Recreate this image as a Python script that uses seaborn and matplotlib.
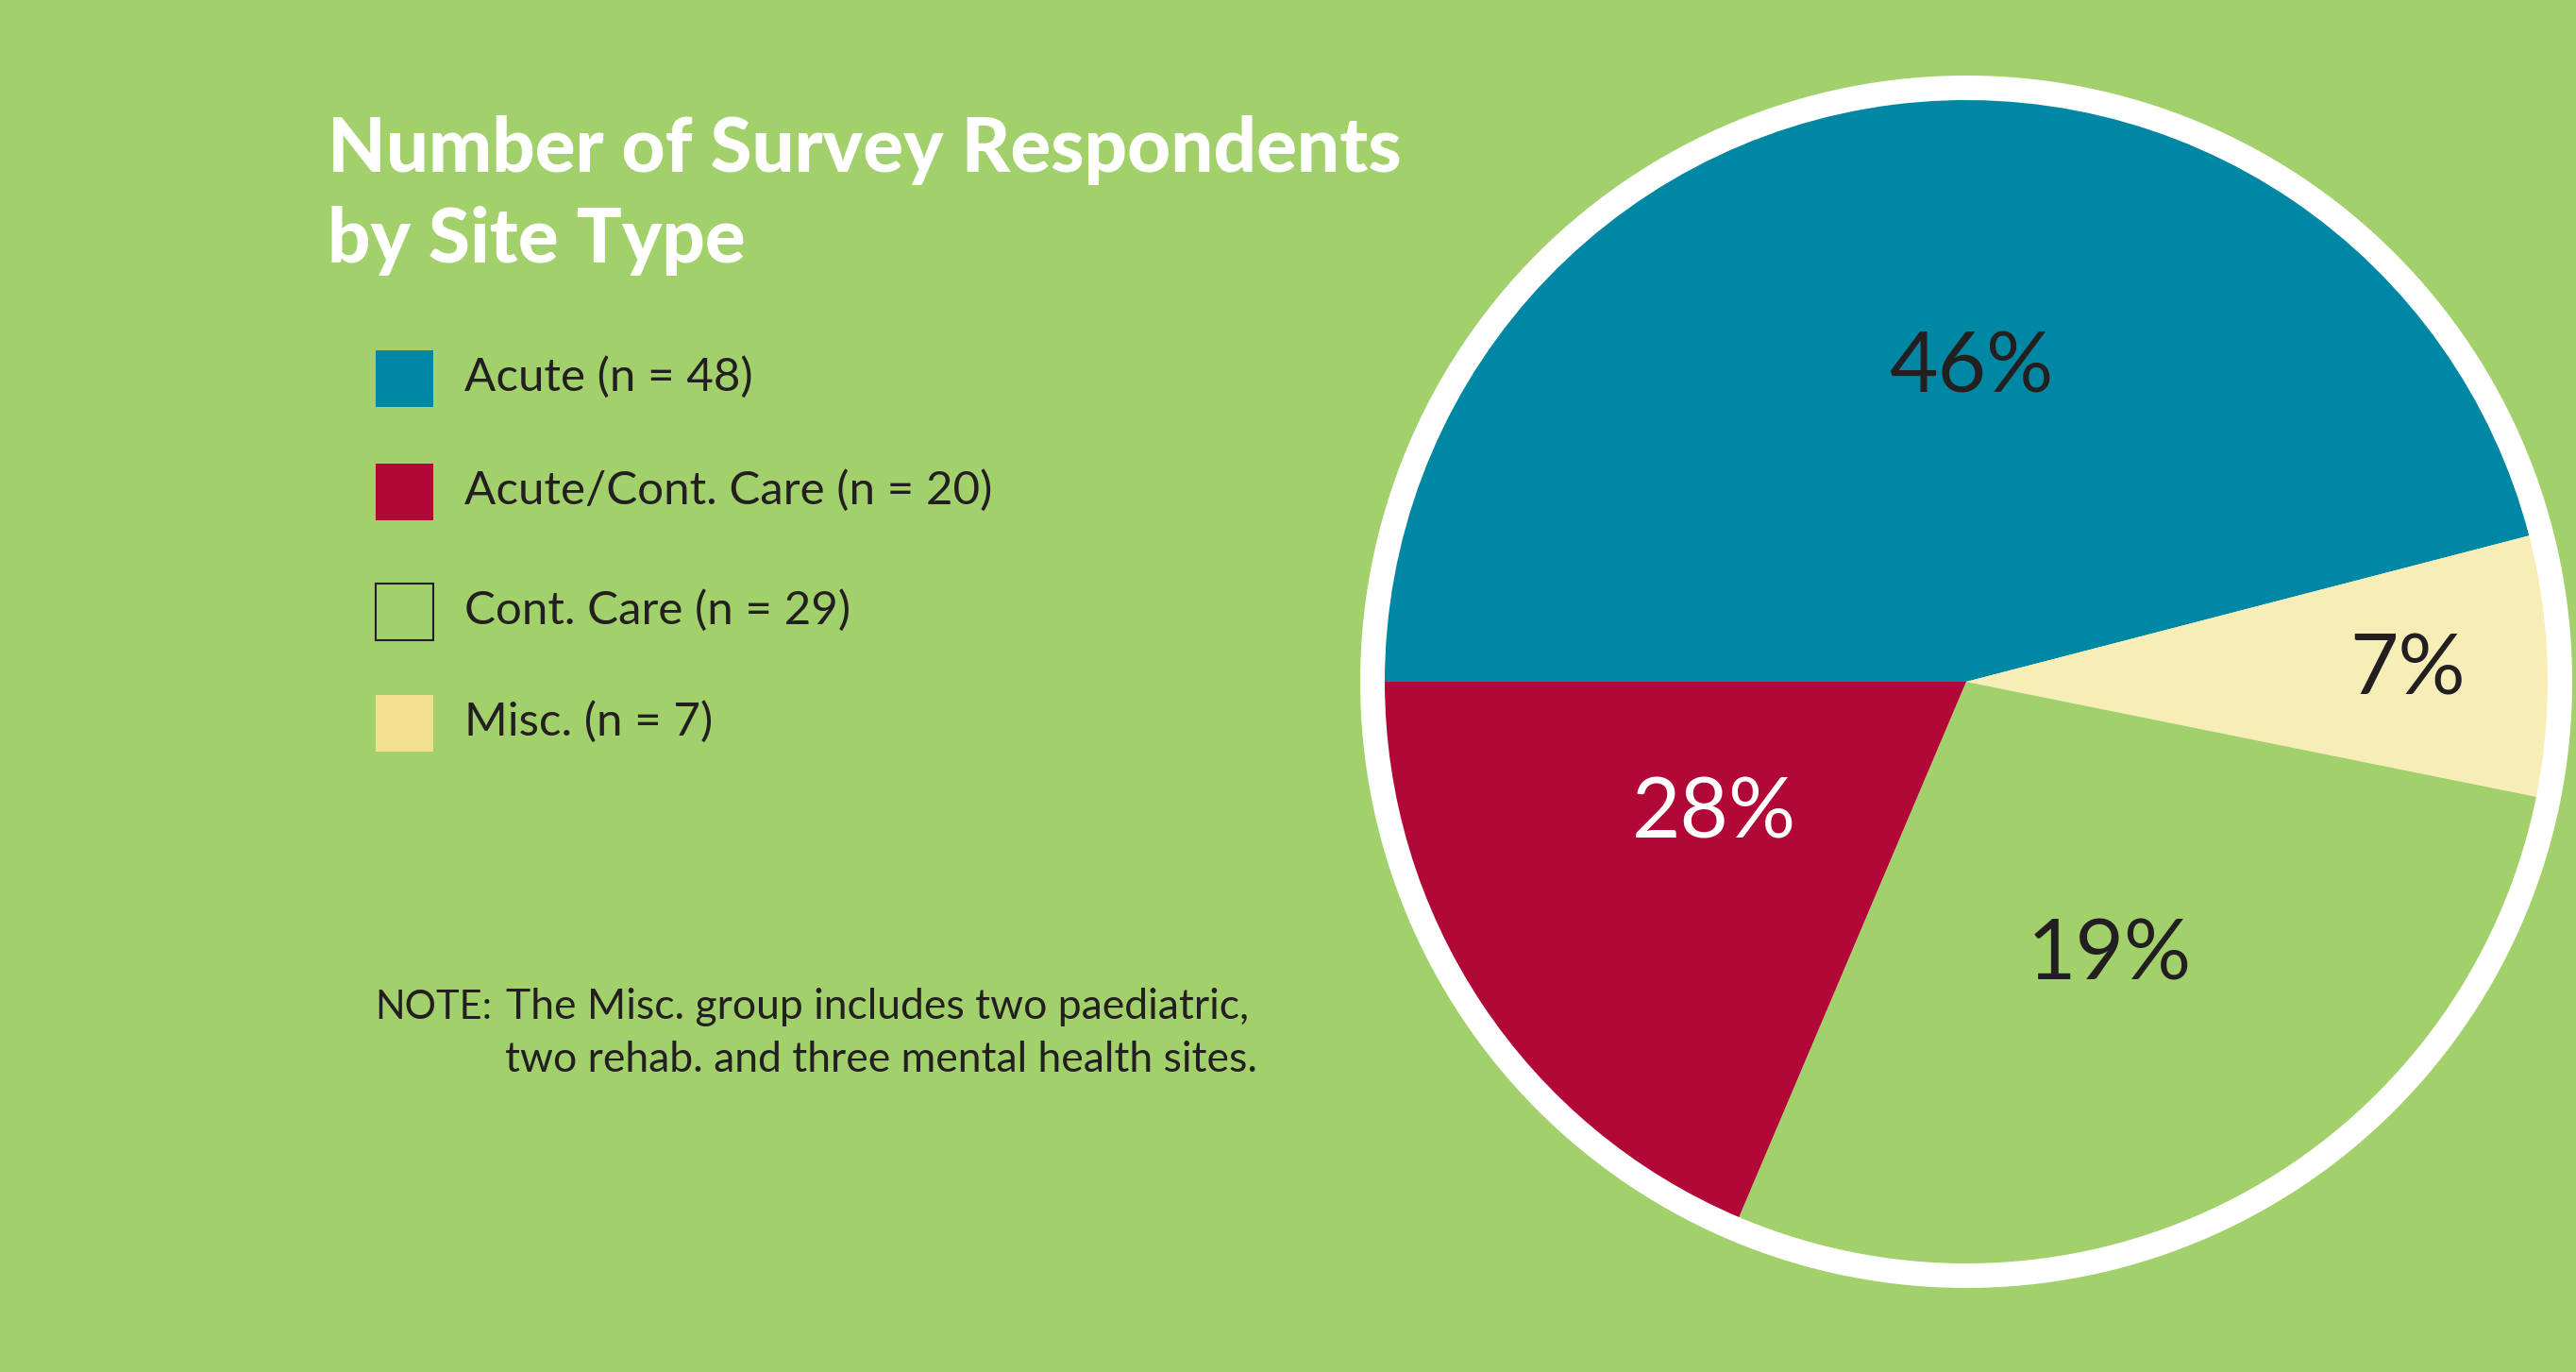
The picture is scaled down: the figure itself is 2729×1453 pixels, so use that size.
import matplotlib
matplotlib.use("Agg")
import matplotlib.pyplot as plt
import seaborn as sns
from matplotlib.patches import Rectangle, Circle

# ---- data ----
categories = ["Acute", "Misc.", "Cont. Care", "Acute/Cont. Care"]
shares = [45.96, 7.21, 28.22, 18.61]          # wedge sizes as drawn (%)
pct_labels = ["46%", "7%", "19%", "28%"]
legend_order = ["Acute", "Acute/Cont. Care", "Cont. Care", "Misc."]
legend_n = [48, 20, 29, 7]
title_lines = ["Number of Survey Respondents", "by Site Type"]
note_lines = ["NOTE:", "The Misc. group includes two paediatric,",
              "two rehab. and three mental health sites."]

# ---- styles ----
BG = "#A2D06B"
wedge_colors = {"Acute": "#0087A4", "Misc.": "#F7EDB7",
                "Cont. Care": BG, "Acute/Cont. Care": "#B20838"}
legend_colors = {"Acute": "#0087A4", "Acute/Cont. Care": "#B20838",
                 "Cont. Care": BG, "Misc.": "#F2E08E"}
DARK = "#231F20"

sns.set_theme(style="white")
plt.rcParams["font.family"] = ["Lato", "DejaVu Sans"]

W, H = 2729, 1453
fig = plt.figure(figsize=(W / 100, H / 100), dpi=100, facecolor=BG)
ax = fig.add_axes([0, 0, 1, 1])
ax.set_facecolor(BG)

def Y(py):
    return H - py

cx, cy, r = 2083, Y(722), 616
ax.add_patch(Circle((cx, cy), r + 26, facecolor="white", edgecolor="none", zorder=0))
wedges, _ = ax.pie(shares, colors=[wedge_colors[c] for c in categories],
                   startangle=180, counterclock=False, center=(cx, cy), radius=r,
                   wedgeprops=dict(linewidth=0, edgecolor="none"))
for w in wedges:
    w.set_zorder(1)

# percentage labels (pixel positions)
label_pos = [(2089, 391), (2551, 711), (2235, 1012), (1816, 863)]
label_col = [DARK, DARK, DARK, "white"]
for t, (px, py), c in zip(pct_labels, label_pos, label_col):
    ax.text(px, Y(py), t, ha="center", va="center", fontsize=64, color=c, zorder=3)

ax.set_xlim(0, W)
ax.set_ylim(0, H)
ax.set_aspect("equal")
ax.axis("off")

# title
for line, by in zip(title_lines, [182, 278]):
    ax.text(347, Y(by), line, fontsize=57.5, fontweight=900, color="white",
            ha="left", va="baseline")

# legend
row_centers = [401, 521, 648, 766]
for name, n, yc in zip(legend_order, legend_n, row_centers):
    ec = DARK if name == "Cont. Care" else "none"
    ax.add_patch(Rectangle((398, Y(yc + 30)), 61, 60, facecolor=legend_colors[name],
                           edgecolor=ec, linewidth=1.5, zorder=2))
    ax.text(492, Y(yc + 13), f"{name} (n = {n})", fontsize=35.5, color=DARK,
            ha="left", va="baseline")

# note
ax.text(397, Y(1079), note_lines[0], fontsize=30, color=DARK, ha="left", va="baseline")
ax.text(536, Y(1079), note_lines[1], fontsize=32, color=DARK, ha="left", va="baseline")
ax.text(535, Y(1135), note_lines[2], fontsize=32, color=DARK, ha="left", va="baseline")

fig.savefig("out.png", dpi=100, facecolor=BG)
